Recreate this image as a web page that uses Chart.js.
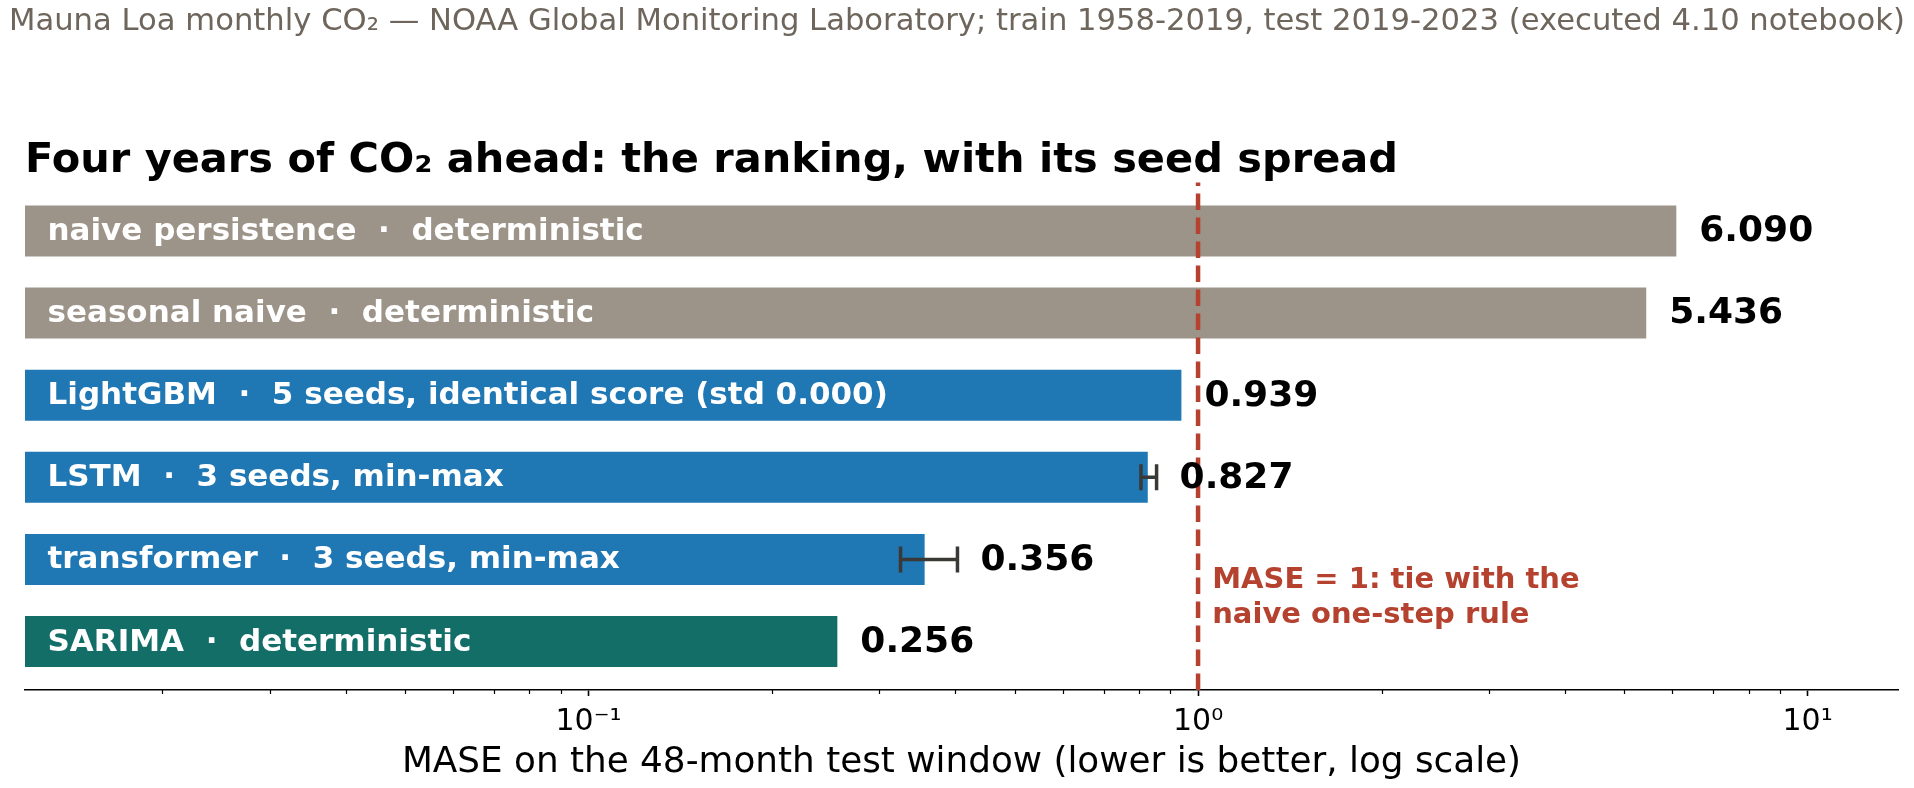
<!DOCTYPE html>
<html>
<head>
<meta charset="utf-8">
<script src="https://cdn.jsdelivr.net/npm/chart.js@4.4.1/dist/chart.umd.min.js"></script>
<style>
  html, body { margin: 0; padding: 0; background: #fff; }
  #wrap { width: 1914px; height: 788px; }
</style>
</head>
<body>
<div id="wrap"><canvas id="maseChart"></canvas></div>
<script>
// values
var categories = ['naive persistence', 'seasonal naive', 'LightGBM', 'LSTM', 'transformer', 'SARIMA'];
var seedNotes = ['deterministic', 'deterministic', '5 seeds, identical score (std 0.000)', '3 seeds, min-max', '3 seeds, min-max', 'deterministic'];
var maseValues = [6.090, 5.436, 0.939, 0.827, 0.356, 0.256];
var seedMin = [null, null, null, 0.806, 0.325, null];
var seedMax = [null, null, null, 0.855, 0.403, null];
var barColors = ['#9c9389', '#9c9389', '#1f77b4', '#1f77b4', '#1f77b4', '#136e68'];
var tickValues = [0.1, 1, 10];
var tickLabels = ['10\u207B\u00B9', '10\u2070', '10\u00B9'];

var SOURCE = 'Mauna Loa monthly CO\u2082 \u2014 NOAA Global Monitoring Laboratory; train 1958-2019, test 2019-2023 (executed 4.10 notebook)';
var RED = '#b5412f';
var FONT = "'DejaVu Sans', 'Liberation Sans', sans-serif";

Chart.defaults.font.family = FONT;
Chart.defaults.color = '#000';

function isMajor(v) {
    return tickValues.some(function (t) { return Math.abs(t - v) / t < 1e-9; });
}

var overlay = {
    id: 'overlay',
    afterDatasetsDraw: function (chart) {
        var ctx = chart.ctx, area = chart.chartArea;
        var xs = chart.scales.x, ys = chart.scales.y;
        var bars = chart.getDatasetMeta(0).data;
        ctx.save();

        // MASE = 1 reference, drawn over the bars, bottom to top
        var rx = xs.getPixelForValue(1);
        ctx.strokeStyle = RED;
        ctx.lineWidth = 4.5;
        ctx.setLineDash([16.5, 7.5]);
        ctx.beginPath();
        ctx.moveTo(rx, area.bottom);
        ctx.lineTo(rx, area.top);
        ctx.stroke();
        ctx.setLineDash([]);

        bars.forEach(function (bar, i) {
            var end = bar.x;
            // seed spread whiskers
            if (seedMin[i] !== null) {
                var x0 = xs.getPixelForValue(seedMin[i]);
                var x1 = xs.getPixelForValue(seedMax[i]);
                ctx.strokeStyle = '#3a3935';
                ctx.lineWidth = 3.5;
                ctx.beginPath();
                ctx.moveTo(x0, bar.y); ctx.lineTo(x1, bar.y);
                ctx.moveTo(x0, bar.y - 13); ctx.lineTo(x0, bar.y + 13);
                ctx.moveTo(x1, bar.y - 13); ctx.lineTo(x1, bar.y + 13);
                ctx.stroke();
                end = Math.max(end, x1);
            }
            ctx.textBaseline = 'middle';
            ctx.textAlign = 'left';
            ctx.fillStyle = '#fff';
            ctx.font = 'bold 31px ' + FONT;
            ctx.fillText(categories[i] + '  \u00B7  ' + seedNotes[i], bar.base + 22.5, bar.y + 1);
            ctx.fillStyle = '#000';
            ctx.font = 'bold 36px ' + FONT;
            ctx.fillText(maseValues[i].toFixed(3), end + 23, bar.y + 1);
        });

        // reference note
        ctx.fillStyle = RED;
        ctx.font = 'bold 29px ' + FONT;
        var ax = xs.getPixelForValue(1.055);
        var ay = ys.getPixelForValue(4.47);
        ctx.fillText('MASE = 1: tie with the', ax, ay - 17.7);
        ctx.fillText('naive one-step rule', ax, ay + 17.7);
        ctx.restore();
    },
    afterDraw: function (chart) {
        var ctx = chart.ctx, xs = chart.scales.x, area = chart.chartArea;
        ctx.save();
        // short minor ticks
        ctx.strokeStyle = '#000';
        ctx.lineWidth = 1.2;
        ctx.beginPath();
        xs.ticks.forEach(function (t) {
            if (t.major) return;
            var px = Math.round(xs.getPixelForValue(t.value)) + 0.5;
            ctx.moveTo(px, area.bottom);
            ctx.lineTo(px, area.bottom + 4);
        });
        ctx.stroke();
        // figure-wide source line, centred on the whole canvas
        ctx.fillStyle = '#6e665c';
        ctx.font = '31px ' + FONT;
        ctx.textAlign = 'center';
        ctx.textBaseline = 'middle';
        ctx.fillText(SOURCE, chart.width / 2, 22, 1896);
        ctx.restore();
    }
};

var ctx = document.getElementById('maseChart').getContext('2d');
var chart = new Chart(ctx, {
    type: 'bar',
    data: {
        datasets: [{
            data: maseValues.map(function (v, i) { return { x: v, y: i }; }),
            backgroundColor: barColors,
            borderWidth: 0,
            barPercentage: 0.62,
            categoryPercentage: 1
        }]
    },
    options: {
        indexAxis: 'y',
        responsive: true,
        maintainAspectRatio: false,
        animation: false,
        devicePixelRatio: 1,
        layout: { padding: { left: 25, right: 16, top: 0, bottom: 0 } },
        plugins: {
            legend: { display: false },
            tooltip: { enabled: false },
            title: {
                display: true,
                align: 'start',
                text: 'Four years of CO\u2082 ahead: the ranking, with its seed spread',
                color: '#000',
                font: { size: 41.5, weight: 'bold', lineHeight: 1 },
                padding: { top: 140, bottom: 1 }
            }
        },
        scales: {
            x: {
                type: 'logarithmic',
                min: 0.0119,
                max: 14.07,
                bounds: 'data',
                afterBuildTicks: function (scale) {
                    var ticks = [];
                    for (var e = -2; e <= 1; e++) {
                        for (var m = 1; m <= 9; m++) {
                            var v = m * Math.pow(10, e);
                            if (v >= scale.min && v <= scale.max) {
                                ticks.push({ value: v, major: m === 1 });
                            }
                        }
                    }
                    scale.ticks = ticks;
                },
                ticks: {
                    autoSkip: false,
                    maxRotation: 0,
                    padding: 8,
                    color: '#000',
                    font: { size: 30, lineHeight: 1.2 },
                    callback: function (value) {
                        var k = tickValues.findIndex(function (t) { return Math.abs(t - value) / t < 1e-9; });
                        return k >= 0 ? tickLabels[k] : '';
                    }
                },
                grid: {
                    drawOnChartArea: false,
                    drawTicks: true,
                    tickLength: 6,
                    tickWidth: 1.6,
                    tickColor: function (c) { return c.tick && isMajor(c.tick.value) ? '#000' : 'rgba(0,0,0,0)'; }
                },
                border: { display: true, color: '#000', width: 1.6 },
                title: {
                    display: true,
                    text: 'MASE on the 48-month test window (lower is better, log scale)',
                    color: '#000',
                    font: { size: 35.8, lineHeight: 0.838 },
                    padding: { top: 0, bottom: 10 }
                }
            },
            y: {
                type: 'linear',
                display: false,
                reverse: true,
                offset: false,
                min: -0.59,
                max: 5.59,
                bounds: 'data',
                afterBuildTicks: function (scale) {
                    scale.ticks = categories.map(function (c, i) { return { value: i }; });
                }
            }
        }
    },
    plugins: [overlay]
});
</script>
</body>
</html>
